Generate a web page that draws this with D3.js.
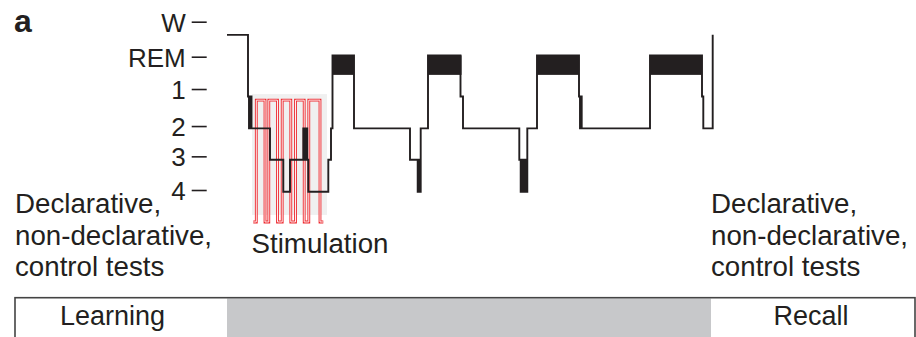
<!DOCTYPE html>
<html>
<head>
<meta charset="utf-8">
<script src="https://cdn.jsdelivr.net/npm/d3@7"></script>
<style>
  html, body { margin: 0; padding: 0; background: #fff; }
  svg { display: block; }
  text { font-family: "Liberation Sans", Arial, Helvetica, sans-serif; fill: #231f20; }
</style>
</head>
<body>
<svg id="chart" width="916" height="337"></svg>
<script>
// ---------------- data ----------------
const tickLabels = ["W", "REM", "1", "2", "3", "4"];
const tickStage  = [0, 1.04, 2.0, 3.1, 4.0, 5.0];

// hypnogram plotting levels (stage units)
const W = 0.39, R = 1.0, S1 = 2.22, S2 = 3.17, S3 = 4.1, S4 = 5.05;
const remDepth = 0.58;

// time (min after lights off) at which each stage starts
const hypnoTime  = [0, 21, 22, 23, 24.5, 43, 56.3, 63, 76.3, 78, 79.2, 80.2, 81.3, 101.3, 104, 105.5,
                    127, 183, 190.7, 191.7, 192.7, 193.7, 201, 233.5, 236,
                    292.3, 293.7, 295, 296.3, 297.5, 298.7, 300.3, 310,
                    352, 353, 353.8, 354.7, 423, 475, 476.3, 485.7];
const hypnoStage = [W, S1, S2, S1, S2, S3, S4, S3, S2, S3, S2, S3, S4, S3, S2, R,
                    S2, S3, S4, S3, S4, S2, R, S1, S2,
                    S3, S4, S3, S4, S3, S4, S2, R,
                    S1, S2, S1, S2, R, S1, S2, W];

const remStart = [105.5, 201, 310, 423];
const remEnd   = [127, 234.5, 352, 475];

// stimulation pulses
const pulseOn  = [29.3, 41.8, 55.2, 68.5, 81.8];
const pulseOff = [38, 50.5, 63.8, 77.2, 93];
const stimWindow = [26.3, 96.3];
const stimShade  = [25, 100];
const pulseHigh = 2.33, pulseLow = 5.95;
const shadeTop = 2.15, shadeBottom = 5.74;

// phases
const phaseNames = ["Learning", "", "Recall"];
const sideText = ["Declarative,", "non-declarative,", "control tests"];

// ---------------- drawing ----------------
const svg = d3.select("#chart");
const x = d3.scaleLinear().domain([0, 486]).range([227, 713]);
const y = d3.scaleLinear().domain([0, 5]).range([21.7, 190]);
const ink = "#231f20";

// panel letter
svg.append("text").attr("x", 14).attr("y", 31.5)
  .attr("font-size", 32).attr("font-weight", "bold").text("a");

// stimulation shading
svg.append("rect")
  .attr("x", x(stimShade[0])).attr("y", y(shadeTop))
  .attr("width", x(stimShade[1]) - x(stimShade[0]))
  .attr("height", y(shadeBottom) - y(shadeTop))
  .attr("fill", "#f0f0f0");

// y axis
const axis = d3.axisLeft(y).tickValues(tickStage)
  .tickFormat((d, i) => tickLabels[i]).tickSize(15).tickPadding(6);
const gAxis = svg.append("g").attr("transform", "translate(206.7,0)").call(axis);
gAxis.select(".domain").remove();
gAxis.selectAll(".tick line").attr("stroke", ink).attr("stroke-width", 1.6);
gAxis.selectAll(".tick text").attr("font-size", 26).attr("fill", ink)
  .attr("font-family", "Liberation Sans, Arial, sans-serif").attr("dy", "0.36em");

// stimulation square wave
const wave = [[stimWindow[0], pulseLow]];
pulseOn.forEach((t, i) => {
  wave.push([t, pulseLow], [t, pulseHigh], [pulseOff[i], pulseHigh], [pulseOff[i], pulseLow]);
});
wave.push([stimWindow[1], pulseLow]);
const waveLine = d3.line().x(d => x(d[0])).y(d => y(d[1]));
svg.append("path").attr("d", waveLine(wave)).attr("fill", "none")
  .attr("stroke", "#ee2a30").attr("stroke-width", 2.8).attr("stroke-linejoin", "miter");
svg.append("path").attr("d", waveLine(wave)).attr("fill", "none")
  .attr("stroke", "#fdeeee").attr("stroke-width", 1.0);

// hypnogram
const hyp = hypnoTime.map((t, i) => [t, hypnoStage[i]]);
const hypLine = d3.line().x(d => x(d[0])).y(d => y(d[1])).curve(d3.curveStepAfter);
svg.append("path").attr("d", hypLine(hyp)).attr("fill", "none")
  .attr("stroke", ink).attr("stroke-width", 1.9).attr("stroke-linejoin", "miter");

// REM blocks
svg.selectAll("rect.rem").data(remStart).enter().append("rect")
  .attr("class", "rem")
  .attr("x", d => x(d)).attr("y", y(R))
  .attr("width", (d, i) => x(remEnd[i]) - x(d))
  .attr("height", y(R + remDepth) - y(R))
  .attr("fill", ink);

// side texts
const fs = 27.7;
const baselines = [212.5, 245, 276];
sideText.forEach((s, i) => {
  svg.append("text").attr("x", 15).attr("y", baselines[i]).attr("font-size", fs).text(s);
  svg.append("text").attr("x", 711).attr("y", baselines[i]).attr("font-size", fs).text(s);
});
svg.append("text").attr("x", 251.5).attr("y", 252.5).attr("font-size", fs).text("Stimulation");

// phase bar
svg.append("rect").attr("x", x(0)).attr("y", 298.5).attr("width", x(484) - x(0)).attr("height", 45)
  .attr("fill", "#c7c8ca");
svg.append("rect").attr("x", 15).attr("y", 297.7).attr("width", 900).attr("height", 60)
  .attr("fill", "none").attr("stroke", "#444").attr("stroke-width", 1.6);
svg.append("text").attr("x", 112.5).attr("y", 325).attr("font-size", 27)
  .attr("text-anchor", "middle").text(phaseNames[0]);
svg.append("text").attr("x", 811).attr("y", 325).attr("font-size", 27)
  .attr("text-anchor", "middle").text(phaseNames[2]);
</script>
</body>
</html>
